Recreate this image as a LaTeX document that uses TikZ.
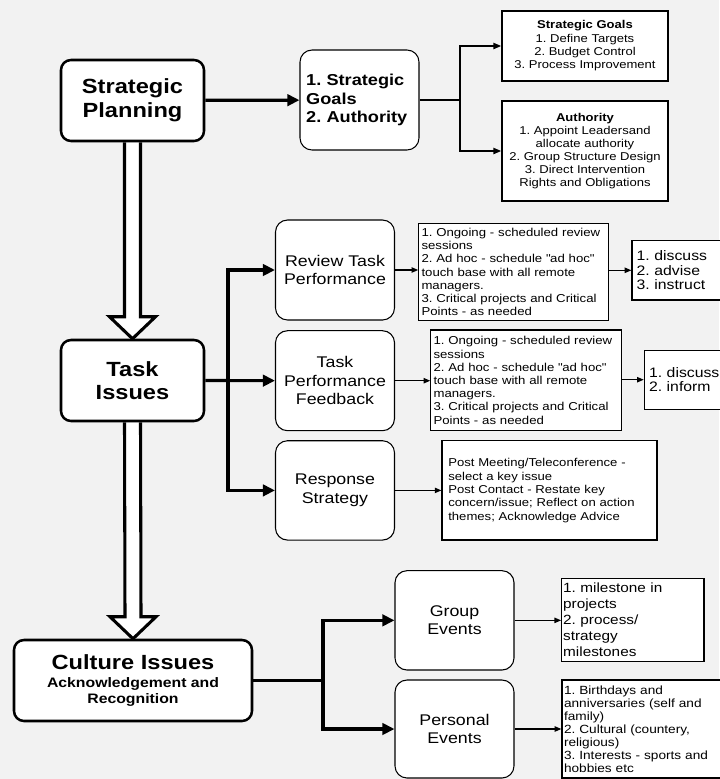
\documentclass[tikz,border=0pt]{standalone}
\usepackage{fontspec}
\setmainfont{Liberation Sans}[FakeStretch=1.15]
\usepackage{tikz}
\usetikzlibrary{arrows.meta,calc,backgrounds}
\definecolor{pagegray}{HTML}{F2F2F2}
\newcommand{\cultsub}{\fontsize{10.3}{11.5}\selectfont}
\frenchspacing

\begin{document}
\begin{tikzpicture}[x=0.75pt,y=-0.75pt,
  mainbox/.style={draw,line width=1.9pt,rounded corners=7.5pt,fill=white,align=center,
              minimum width=107.25pt,minimum height=60.75pt,font=\fontsize{15.4}{17.7}\selectfont\bfseries},
  subbox/.style={draw,line width=0.8pt,rounded corners=9pt,fill=white,align=center,
              minimum width=89.25pt,minimum height=75pt,font=\fontsize{11.6}{13.75}\selectfont},
  goalbox/.style={draw,line width=0.9pt,fill=white,align=center,font=\fontsize{8.5}{10}\selectfont},
  notebox/.style={draw,line width=0.9pt,fill=white,align=left,inner xsep=2pt,
              font=\fontsize{8.6}{9.9}\selectfont},
  listbox/.style={draw,line width=0.9pt,fill=white,align=left,inner xsep=3.5pt,
              font=\fontsize{10.3}{10.9}\selectfont},
  arr/.style={-{Triangle[length=9pt,width=8.5pt]},line width=2.4pt},
  forkarr/.style={-{Triangle[length=6pt,width=4.5pt]},line width=1.5pt},
  thinarr/.style={-{Triangle[length=5pt,width=4pt]},line width=0.9pt},
  hollow/.style={draw,fill=white,line width=2.3pt}
]
  \useasboundingbox (0,0) rectangle (719,779);

  % Left column
  \node[mainbox] (plan) at (132.5,100.5) {Strategic\\Planning};
  \node[mainbox] (task) at (132.5,380.5) {Task\\Issues};
  \node[mainbox,minimum width=178.5pt] (culture) at (133,680.5)
    {Culture Issues\\[-4.4pt]\cultsub Acknowledgement and\\[-6.2pt]\cultsub Recognition};

  % Strategic branch
  \node[subbox,align=left,text width=80pt,inner xsep=4.6pt,
        font=\fontsize{11.85}{14}\selectfont\bfseries] (goals) at (359.5,100)
    {1. Strategic\\Goals\\2. Authority};
  \node[goalbox,minimum width=124.5pt,minimum height=52.5pt] (sg) at (585,46)
    {\textbf{Strategic Goals}\\1. Define Targets\\2. Budget Control\\3. Process Improvement};
  \node[goalbox,minimum width=124.5pt,minimum height=75pt,font=\fontsize{8.5}{9.75}\selectfont] (auth) at (585,151)
    {\textbf{Authority}\\1. Appoint Leadersand\\allocate authority\\2. Group Structure Design\\3. Direct Intervention\\Rights and Obligations};

  % Task branch
  \node[subbox] (review) at (335,270) {Review Task\\Performance};
  \node[subbox] (feedback) at (335,380.7) {Task\\Performance\\Feedback};
  \node[subbox,minimum height=74.5pt] (response) at (335,490.4) {Response\\Strategy};

  \node[notebox,text width=138pt,minimum height=72pt] (reviewnote) at (513.5,272)
    {1. Ongoing - scheduled review\\sessions\\2. Ad hoc - schedule \textquotedbl ad hoc\textquotedbl\\touch base with all remote\\managers.\\3. Critical projects and Critical\\Points - as needed};
  \node[notebox,text width=139pt,minimum height=75.5pt] (feedbacknote) at (526.2,380.3)
    {1. Ongoing - scheduled review\\sessions\\2. Ad hoc - schedule \textquotedbl ad hoc\textquotedbl\\touch base with all remote\\managers.\\3. Critical projects and Critical\\Points - as needed};
  \node[notebox,text width=151.8pt,inner xsep=4.7pt,minimum height=74.5pt,
        font=\fontsize{8.55}{10}\selectfont] (responsenote) at (549.5,490.4)
    {Post Meeting/Teleconference -\\select a key issue\\Post Contact - Restate key\\concern/issue; Reflect on action\\themes; Acknowledge Advice};

  \node[listbox,text width=60.5pt,minimum height=44.5pt] (reviewlist) at (677,270.3)
    {1. discuss\\2. advise\\3. instruct};
  \node[listbox,text width=60pt,minimum height=44.3pt] (feedbacklist) at (689,379.7)
    {1. discuss\\2. inform};

  % Culture branch
  \node[subbox,minimum height=74.5pt] (group) at (454.5,620.35) {Group\\Events};
  \node[subbox,minimum height=73.5pt] (personal) at (454.5,729) {Personal\\Events};
  \node[notebox,text width=104.5pt,inner xsep=1.1pt,minimum height=60pt,
        font=\fontsize{10}{12}\selectfont] (groupnote) at (632.85,620)
    {1. milestone in\\projects\\2. process/\\strategy\\milestones};
  \node[notebox,text width=117pt,inner xsep=1.5pt,minimum height=73.5pt,
        font=\fontsize{8.9}{9.7}\selectfont] (personalnote) at (642,729)
    {1. Birthdays and\\anniversaries (self and\\family)\\2. Cultural (countery,\\religious)\\3. Interests - sports and\\hobbies etc};

  % Fork points
  \coordinate (goalsfork) at (460,100);
  \coordinate (taskfork) at (228,380.5);
  \coordinate (culturefork) at (323,680.5);

  % Arrows
  \draw[arr] (plan) -- (goals);
  \draw[line width=1.5pt] (goals.east) -- (goalsfork);
  \draw[forkarr] (goalsfork) |- (sg.west);
  \draw[forkarr] (goalsfork) |- (auth.west);

  \draw[arr] (task) -- (feedback);
  \draw[arr] (taskfork) |- (review.west);
  \draw[arr] (taskfork) |- (response.west);
  \draw[thinarr] (review.east) -- (review.east -| reviewnote.west);
  \draw[thinarr] (feedback.east) -- (feedback.east -| feedbacknote.west);
  \draw[thinarr] (response.east) -- (response.east -| responsenote.west);
  \draw[thinarr] (reviewnote.east |- reviewlist.west) -- (reviewlist.west);
  \draw[thinarr] (feedbacknote.east |- feedbacklist.west) -- (feedbacklist.west);

  \draw[line width=2.4pt] (culture.east) -- (culturefork);
  \draw[arr] (culturefork) |- (group.west);
  \draw[arr] (culturefork) |- (personal.west);
  \draw[thinarr] (group.east) -- (group.east -| groupnote.west);
  \draw[thinarr] (personal.east) -- (personal.east -| personalnote.west);

  % Page and hollow arrows
  \begin{scope}[on background layer]
    \fill[pagegray] (0,0) rectangle (719,779);
    \draw[hollow] ($(plan.south)+(-8,0)$) -- ($(task.north)+(-8,-22)$) -- ($(task.north)+(-23,-22)$)
      -- (task.north) -- ($(task.north)+(23,-22)$) -- ($(task.north)+(8,-22)$) -- ($(plan.south)+(8,0)$);
    \draw[hollow] ($(task.south)+(-8,0)$) -- ($(culture.north)+(-8,-22)$) -- ($(culture.north)+(-23,-22)$)
      -- (culture.north) -- ($(culture.north)+(23,-22)$) -- ($(culture.north)+(8,-22)$) -- ($(task.south)+(8,0)$);
  \end{scope}
\end{tikzpicture}
\end{document}
